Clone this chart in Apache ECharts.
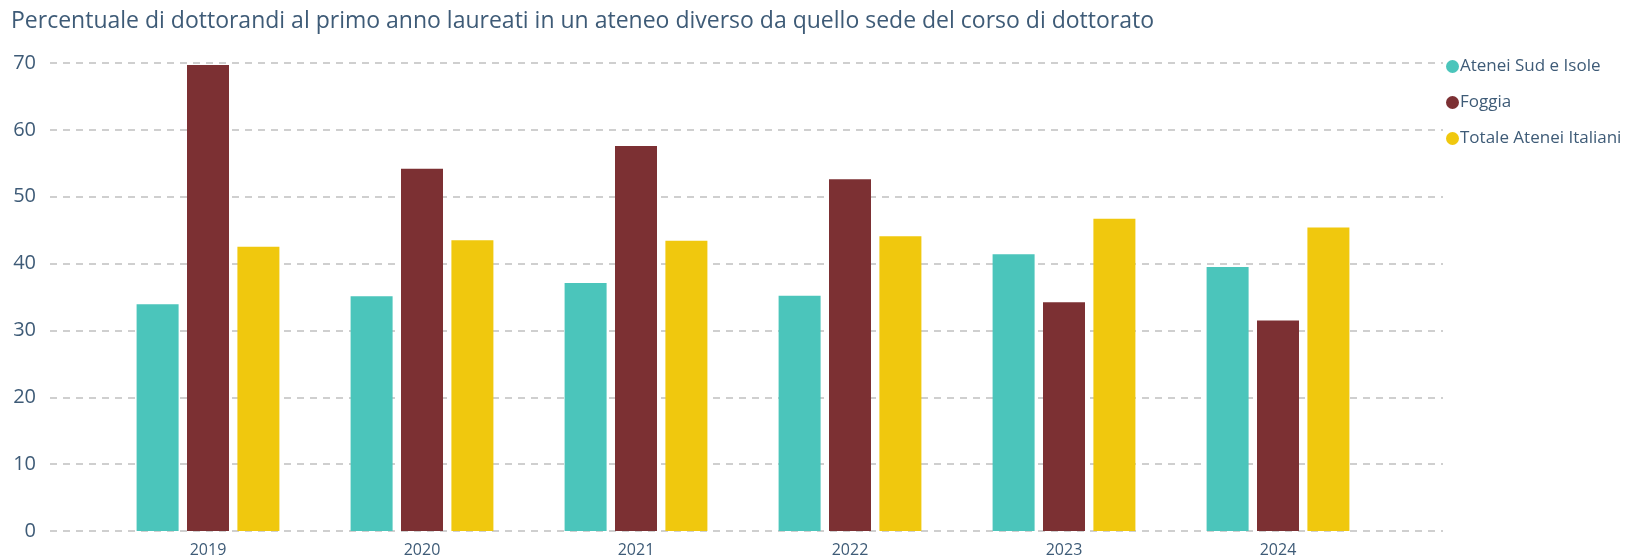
<!DOCTYPE html>
<html>
<head>
<meta charset="utf-8">
<script src="https://cdn.jsdelivr.net/npm/echarts@6/dist/echarts.min.js"></script>
<style>
  html, body { margin: 0; padding: 0; background: #fff; }
  #chart { width: 1648px; height: 558px; }
</style>
</head>
<body>
<div id="chart"></div>
<script>
const years = ['2019', '2020', '2021', '2022', '2023', '2024']
const sudIsole = [33.9, 35.1, 37.1, 35.2, 41.4, 39.5]
const foggia = [69.7, 54.2, 57.6, 52.6, 34.2, 31.5]
const totaleItalia = [42.5, 43.5, 43.4, 44.1, 46.7, 45.4]
const yTicks = [0, 10, 20, 30, 40, 50, 60, 70]

const textColor = '#3e5b77'
const font = '"Open Sans", sans-serif'

const chart = echarts.init(document.getElementById('chart'))

const barStyle = (color) => ({
  type: 'bar',
  xAxisIndex: 1,
  yAxisIndex: 1,
  barWidth: 42,
  barGap: '20%',
  itemStyle: { color: color },
})

chart.setOption({
  animation: false,
  backgroundColor: '#fff',
  textStyle: { fontFamily: font },
  title: {
    text: 'Percentuale di dottorandi al primo anno laureati in un ateneo diverso da quello sede del corso di dottorato',
    left: 6,
    top: 5,
    textStyle: { color: textColor, fontSize: 23, fontWeight: 'normal', fontFamily: font },
  },
  legend: {
    orient: 'vertical',
    left: 1441,
    top: 53,
    icon: 'circle',
    itemWidth: 13,
    itemHeight: 13,
    itemGap: 19,
    textStyle: { color: textColor, fontSize: 17, fontFamily: font, padding: [0, 0, 0, -4] },
    data: ['Atenei Sud e Isole', 'Foggia', 'Totale Atenei Italiani'],
  },
  grid: [
    { left: 50, right: 205, top: 63, bottom: 27 },
    { left: 101, width: 1284, top: 63, bottom: 27 },
  ],
  xAxis: [
    { gridIndex: 0, type: 'value', min: 0, max: 1, show: false },
    {
      gridIndex: 1,
      type: 'category',
      data: years,
      axisLine: { show: false },
      axisTick: { show: false },
      axisLabel: { color: textColor, fontSize: 16, margin: 11, fontFamily: font },
    },
  ],
  yAxis: [
    {
      gridIndex: 0,
      type: 'value',
      min: yTicks[0],
      max: yTicks[yTicks.length - 1],
      interval: 10,
      axisLine: { show: false },
      axisTick: { show: false },
      axisLabel: { color: textColor, fontSize: 20, margin: 14, fontFamily: font },
      splitLine: { lineStyle: { color: '#cfcfcf', width: 2, type: [7, 6] } },
    },
    {
      gridIndex: 1,
      type: 'value',
      min: yTicks[0],
      max: yTicks[yTicks.length - 1],
      interval: 10,
      show: false,
      splitLine: { show: false },
    },
  ],
  series: [
    { name: 'Atenei Sud e Isole', data: sudIsole, ...barStyle('#4bc5bb') },
    { name: 'Foggia', data: foggia, ...barStyle('#7c3033') },
    { name: 'Totale Atenei Italiani', data: totaleItalia, ...barStyle('#f0c80e') },
  ],
})
</script>
</body>
</html>
